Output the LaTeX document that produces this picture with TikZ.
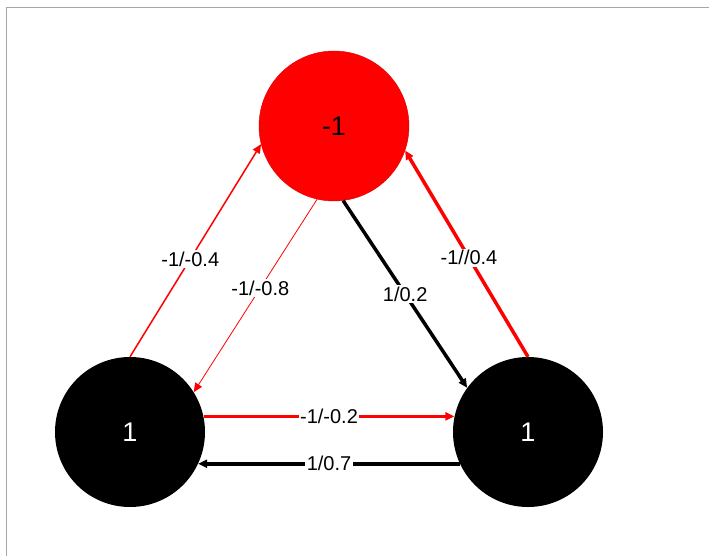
\documentclass[tikz,border=0pt]{standalone}
\usepackage{fontspec}
\setmainfont{Liberation Sans}
\usetikzlibrary{arrows.meta}
\begin{document}
\begin{tikzpicture}[x=1pt,y=-1pt,
    state/.style={circle,minimum size=150pt,inner sep=0pt,font=\fontsize{27}{27}\selectfont},
    weight/.style={fill=white,text=black,inner sep=1.5pt,font=\fontsize{20}{20}\selectfont},
    tip/.style={-{Triangle[length=9pt,width=8pt]}}]
    \useasboundingbox (0,0) rectangle (709,556);
    \draw[gray!70,line width=1pt] (6,556) -- (6,8) -- (709,8);

    \node[state,fill=red,draw=red!85!black,line width=0.4pt] (top) at (334,126) {-1};
    \node[state,fill=black,text=white] (left) at (130,432) {1};
    \node[state,fill=black,text=white] (right) at (528,432) {1};

    \draw[tip,red,line width=1.5pt] (left.90) -- node[weight,pos=0.46]{-1/-0.4} (top.194);
    \draw[tip,red,line width=0.8pt] (top.257) -- node[weight,pos=0.46]{-1/-0.8} (left.32);
    \draw[tip,black,line width=3.5pt] (top.277) -- node[weight]{1/0.2} (right.144);
    \draw[tip,red,line width=3.5pt] (right.90) -- node[weight,pos=0.48]{-1//0.4} (top.341);
    \draw[tip,red,line width=2.5pt] (left.12) -- node[weight]{-1/-0.2} (right.168);
    \draw[tip,black,line width=4pt] (right.205) -- node[weight]{1/0.7} (left.335);
\end{tikzpicture}
\end{document}
